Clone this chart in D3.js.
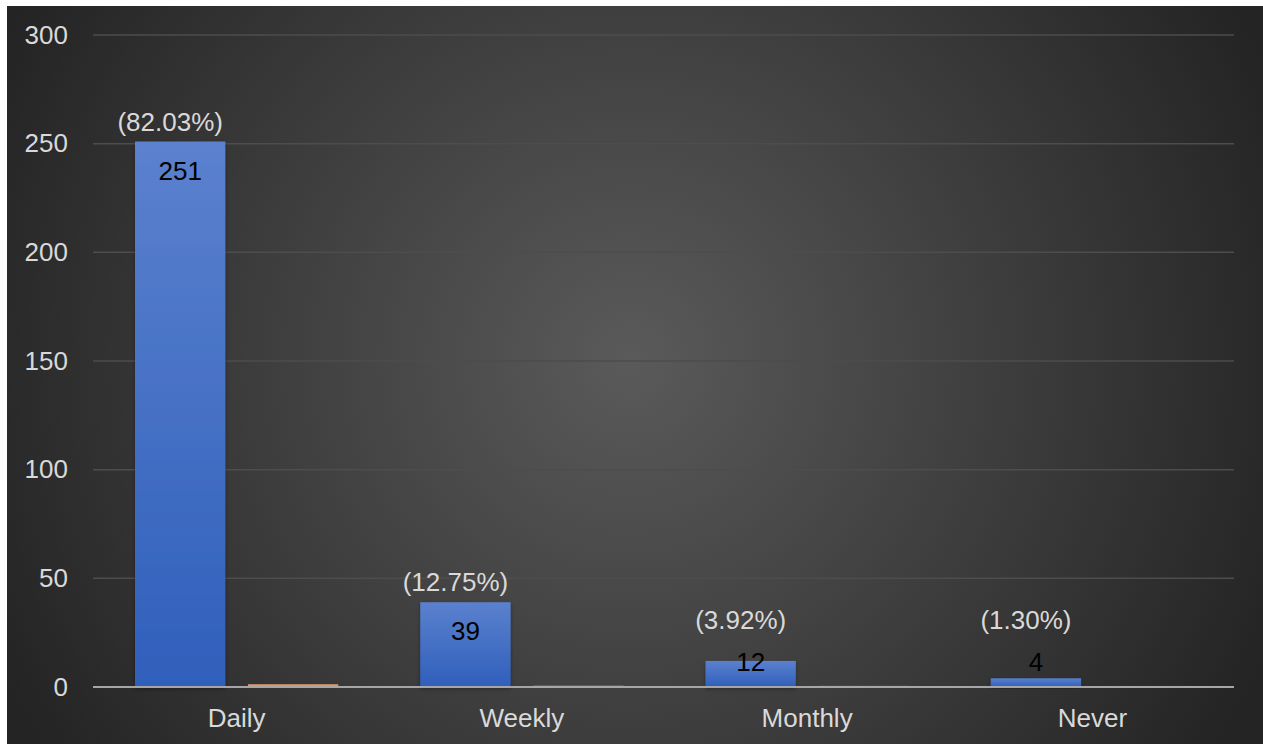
<!DOCTYPE html>
<html><head><meta charset="utf-8">
<script src="https://cdn.jsdelivr.net/npm/d3@7"></script>
<style>html,body{margin:0;padding:0;background:#fff;overflow:hidden}</style>
</head><body><svg id="c" width="1263" height="744"></svg>
<script>
const categories = ["Daily", "Weekly", "Monthly", "Never"];
const counts = [251, 39, 12, 4];
const shares = [0.8203, 0.1275, 0.0392, 0.0130];
const percentLabels = ["(82.03%)", "(12.75%)", "(3.92%)", "(1.30%)"];
const yTicks = [0, 50, 100, 150, 200, 250, 300];

const svg = d3.select("#c");
const defs = svg.append("defs");
const bg = defs.append("radialGradient").attr("id","bg")
  .attr("gradientUnits","userSpaceOnUse").attr("cx",630).attr("cy",360).attr("r",700);
bg.append("stop").attr("offset","0").attr("stop-color","#5a5a5a");
bg.append("stop").attr("offset","1").attr("stop-color","#242424");
const bl = defs.append("linearGradient").attr("id","blue").attr("x1",0).attr("y1",0).attr("x2",0).attr("y2",1);
bl.append("stop").attr("offset","0").attr("stop-color","#5b81ce");
bl.append("stop").attr("offset","1").attr("stop-color","#2f5fbb");
const sh = defs.append("filter").attr("id","sh").attr("x","-10%").attr("y","-10%").attr("width","120%").attr("height","130%");
sh.append("feDropShadow").attr("dx",0).attr("dy",2).attr("stdDeviation",2).attr("flood-color","#000").attr("flood-opacity",0.35);

svg.append("rect").attr("x",7).attr("y",6).attr("width",1256).attr("height",738).attr("fill","url(#bg)");

const x0 = d3.scaleBand().domain(categories).range([94,1235]).paddingInner(0).paddingOuter(0);
const x1 = d3.scaleBand().domain(["count","share"]).range([41, x0.bandwidth()-41]).paddingInner(0.2);
const y = d3.scaleLinear().domain([0,300]).range([687,35]);
const font = "'Liberation Sans', Arial, sans-serif";
const fs = 26;

// grid
svg.append("g").selectAll("line").data(yTicks.filter(d=>d>0)).join("line")
  .attr("x1",93).attr("x2",1234).attr("y1",d=>y(d)).attr("y2",d=>y(d))
  .attr("stroke","#4d4d4d").attr("stroke-width",1.5);

// y axis labels
const ya = svg.append("g").attr("transform","translate(68,0)")
  .call(d3.axisLeft(y).tickValues(yTicks).tickSize(0).tickPadding(0));
ya.select(".domain").remove();
ya.selectAll("text").attr("font-family",font).attr("font-size",fs).attr("fill","#d9d9d9");

// bars
const g = svg.append("g");
g.selectAll("rect.c").data(categories).join("rect").attr("class","c")
  .attr("x",(d)=>x0(d)+x1("count")).attr("width",x1.bandwidth())
  .attr("y",(d,i)=>y(counts[i])).attr("height",(d,i)=>y(0)-y(counts[i]))
  .attr("fill","url(#blue)").attr("filter","url(#sh)");
g.selectAll("rect.s").data(categories).join("rect").attr("class","s")
  .attr("x",(d)=>x0(d)+x1("share")).attr("width",x1.bandwidth())
  .attr("y",(d,i)=>y(shares[i])-1).attr("height",(d,i)=>y(0)-y(shares[i])+1)
  .attr("fill","#f4a36f").attr("opacity",0.9);

// x axis line
svg.append("line").attr("x1",93).attr("x2",1234).attr("y1",687).attr("y2",687)
  .attr("stroke","#a6a6a6").attr("stroke-width",2);

// x labels
const xa = svg.append("g").attr("transform","translate(0,687)")
  .call(d3.axisBottom(x0).tickSize(0).tickPadding(22));
xa.select(".domain").remove();
xa.selectAll("text").attr("font-family",font).attr("font-size",fs).attr("fill","#d9d9d9");

// value labels
const cCenter = i => Math.min(y(counts[i]) + 29, y(0) - 25);
g.selectAll("text.cv").data(categories).join("text").attr("class","cv")
  .attr("x",d=>x0(d)+x1("count")+x1.bandwidth()/2).attr("y",(d,i)=>cCenter(i))
  .attr("dy","0.35em").attr("text-anchor","middle")
  .attr("font-family",font).attr("font-size",fs).attr("fill","#000")
  .text((d,i)=>counts[i]);
g.selectAll("text.pv").data(categories).join("text").attr("class","pv")
  .attr("x",d=>x0(d)+x1("count")+x1.bandwidth()/2 - 10)
  .attr("y",(d,i)=>Math.min(y(counts[i]) - 20, cCenter(i) - 42))
  .attr("dy","0.35em").attr("text-anchor","middle")
  .attr("font-family",font).attr("font-size",fs).attr("fill","#d9d9d9")
  .text((d,i)=>percentLabels[i]);
</script></body></html>
